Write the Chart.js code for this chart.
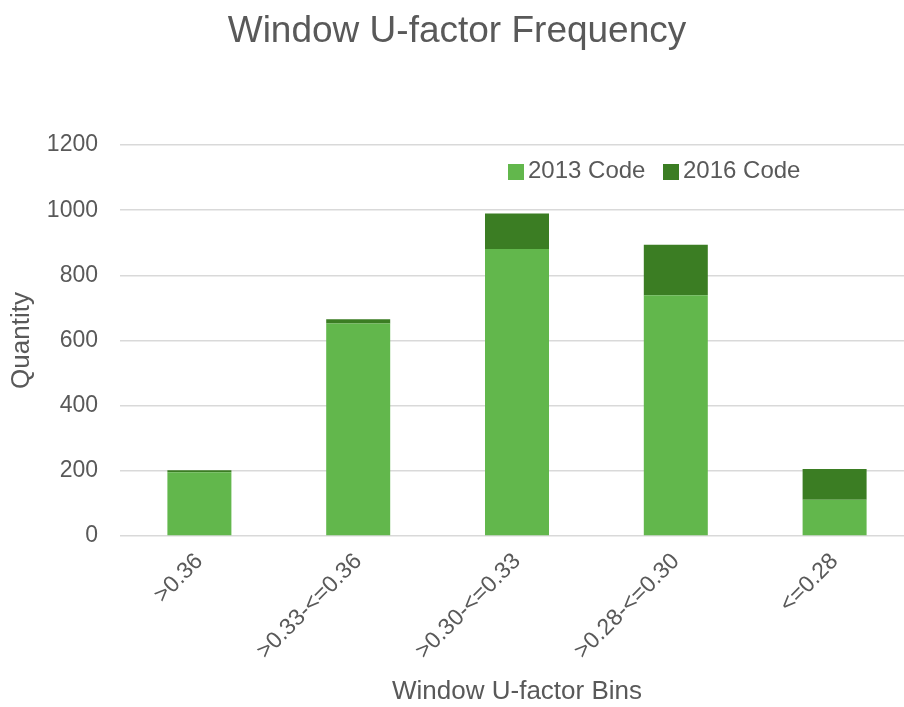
<!DOCTYPE html>
<html>
<head>
<meta charset="utf-8">
<script src="https://cdn.jsdelivr.net/npm/chart.js@4/dist/chart.umd.min.js"></script>
<style>
html, body { margin: 0; padding: 0; background: #fff; overflow: hidden; }
#wrap { width: 920px; height: 707px; position: relative; }
</style>
</head>
<body>
<div id="wrap"><canvas id="c" width="920" height="707"></canvas></div>
<script>
const categories = ['>0.36', '>0.33-<=0.36', '>0.30-<=0.33', '>0.28-<=0.30', '<=0.28'];
const code2013 = [196, 652, 881, 739, 111];
const code2016 = [6, 13, 109, 155, 95];
const seriesNames = ['2013 Code', '2016 Code'];
const yTicks = [0, 200, 400, 600, 800, 1000, 1200];

const FONT = "'Liberation Sans', Arial, sans-serif";
const GREY = '#595959';

const legendPlugin = {
  id: 'insideLegend',
  afterDraw(chart) {
    const ctx = chart.ctx;
    const items = [{x: 508}, {x: 663}];
    ctx.save();
    ctx.font = '24px ' + FONT;
    ctx.textBaseline = 'middle';
    ctx.textAlign = 'left';
    chart.data.datasets.forEach((ds, i) => {
      const bx = items[i].x;
      ctx.fillStyle = ds.backgroundColor;
      ctx.fillRect(bx, 164, 16, 16);
      ctx.fillStyle = GREY;
      ctx.fillText(ds.label, bx + 20, 171);
    });
    ctx.restore();
  }
};

new Chart(document.getElementById('c'), {
  type: 'bar',
  data: {
    labels: categories,
    datasets: [
      { label: seriesNames[0], data: code2013, backgroundColor: '#62b74c', borderWidth: 0 },
      { label: seriesNames[1], data: code2016, backgroundColor: '#3b7d23', borderWidth: 0 }
    ]
  },
  options: {
    responsive: false,
    animation: false,
    devicePixelRatio: 1,
    layout: { padding: { left: 0, right: 6, top: 0, bottom: 0 } },
    datasets: { bar: { barPercentage: 1, categoryPercentage: 0.403 } },
    plugins: {
      legend: { display: false },
      tooltip: { enabled: false },
      title: {
        display: true,
        text: 'Window U-factor Frequency',
        color: GREY,
        font: { family: FONT, size: 37, weight: 'normal' },
        padding: { top: 10, bottom: 90.6 }
      }
    },
    scales: {
      x: {
        stacked: true,
        grid: { display: false, drawTicks: false },
        border: { display: false },
        ticks: {
          color: GREY,
          font: { family: FONT, size: 23 },
          minRotation: 45,
          maxRotation: 45,
          padding: 12,
          autoSkip: false
        },
        title: {
          display: true,
          text: 'Window U-factor Bins',
          color: GREY,
          font: { family: FONT, size: 26 },
          padding: { top: 0, bottom: 0 }
        },
        afterFit(scale) { scale.height = 171; }
      },
      y: {
        stacked: true,
        min: 0,
        max: 1200,
        afterBuildTicks(scale) { scale.ticks = yTicks.map(v => ({ value: v })); },
        grid: { color: '#d9d9d9', lineWidth: 1.5, drawTicks: false },
        border: { display: false },
        ticks: {
          color: GREY,
          font: { family: FONT, size: 23 },
          padding: 22,
          callback: (v) => String(v)
        },
        title: {
          display: true,
          text: 'Quantity',
          color: GREY,
          font: { family: FONT, size: 26 },
          padding: { top: 6, bottom: 0 }
        },
        afterFit(scale) { scale.width = 120; }
      }
    }
  },
  plugins: [legendPlugin]
});
</script>
</body>
</html>
